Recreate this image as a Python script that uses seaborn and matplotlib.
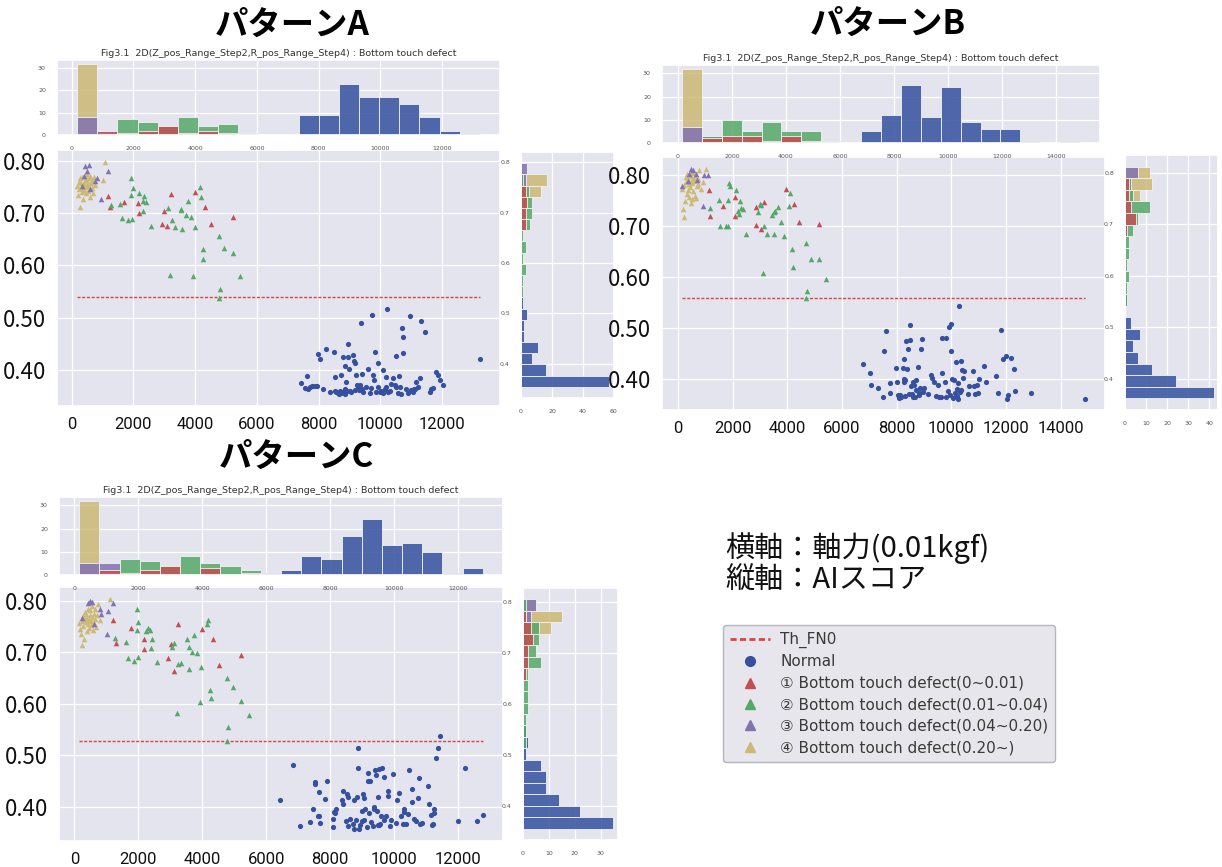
import numpy as np
import matplotlib
matplotlib.use("Agg")
import matplotlib.pyplot as plt
from matplotlib.lines import Line2D
from matplotlib.ticker import FormatStrFormatter, MultipleLocator
import seaborn as sns

# ---------------- data: pattern A ----------------
a_normal_x = [7438, 7622, 7654, 7730, 7784, 7946, 7978, 8032, 8141, 8249, 8497, 8519, 8525, 8573, 8627, 8659,
              8735, 8789, 8795, 8843, 8850, 8897, 8903, 8951, 8958, 8984, 9005, 9135, 9168, 9222, 9243, 9276,
              9308, 9330, 9384, 9390, 9416, 9546, 9600, 9654, 9741, 9762, 9784, 9870, 9924, 9930, 9978, 10086,
              10141, 10195, 10216, 10249, 10357, 10465, 10519, 10573, 10605, 10627, 10681, 10714, 10735, 10742,
              10843, 10951, 11005, 11059, 11114, 11168, 11222, 11297, 11330, 11438, 11600, 11654, 11708, 11816,
              11870, 11924, 12032, 13222, 7560, 7890, 8380, 8680, 8720, 8860, 9060, 9110, 9190, 9450, 9700, 9820,
              10020, 10080, 10170, 10300, 10410, 10490, 10900, 11080]
a_normal_y = [0.3757, 0.389, 0.3647, 0.3679, 0.3698, 0.3698, 0.430, 0.421, 0.364, 0.4402, 0.4351, 0.3864, 0.3602,
              0.3583, 0.357, 0.355, 0.3916, 0.4255, 0.3583, 0.4082, 0.3538, 0.3775, 0.3602, 0.4498, 0.4242, 0.4018,
              0.3602, 0.4178, 0.414, 0.3903, 0.3724, 0.3666, 0.3615, 0.3711, 0.4895, 0.3647, 0.3935, 0.3679, 0.4031,
              0.357, 0.5055, 0.3903, 0.3807, 0.3583, 0.414, 0.3679, 0.3583, 0.3999, 0.3647, 0.3871, 0.517, 0.3583,
              0.3743, 0.3711, 0.3679, 0.357, 0.3884, 0.3679, 0.3551, 0.4812, 0.4639, 0.4319, 0.3647, 0.5042, 0.3615,
              0.3583, 0.3647, 0.3775, 0.3679, 0.3858, 0.494, 0.4735, 0.3583, 0.3647, 0.3666, 0.3967, 0.3903, 0.3807,
              0.3711, 0.421, 0.3662, 0.3702, 0.3589, 0.3605, 0.356, 0.364, 0.3575, 0.429, 0.3628, 0.3592, 0.3655,
              0.434, 0.361, 0.3566, 0.3688, 0.3598, 0.385, 0.4265, 0.3572, 0.3638]
a_red_x = [1168, 1254, 1708, 2162, 2170, 2919, 2973, 3092, 3200, 4000, 4324, 4497, 5222]
a_red_y = [0.7315, 0.7117, 0.7213, 0.720, 0.7008, 0.6796, 0.704, 0.6752, 0.736, 0.7405, 0.7117, 0.6796, 0.6931]
a_green_x = [1276, 1568, 1622, 1816, 1924, 1957, 1978, 1930, 2195, 2303, 2357, 2411, 2324, 2573, 3114, 3243, 3330,
             3189, 3524, 3578, 3546, 3686, 3762, 3849, 3978, 3924, 4162, 4173, 4249, 4240, 4768, 4789, 4757, 4930,
             5222, 5459]
a_green_y = [0.7155, 0.7168, 0.690, 0.6867, 0.7667, 0.6892, 0.7469, 0.734, 0.7379, 0.7232, 0.7315, 0.7219, 0.704,
             0.6752, 0.7104, 0.6867, 0.6732, 0.5811, 0.7085, 0.6688, 0.7059, 0.6957, 0.7232, 0.6931, 0.6739, 0.5791,
             0.7488, 0.7296, 0.6303, 0.6124, 0.656, 0.5548, 0.5375, 0.6335, 0.6227, 0.5804]
a_purple_x = [443, 551, 486, 411, 335, 595, 757, 811, 951, 1160]
a_purple_y = [0.7904, 0.7923, 0.7795, 0.7712, 0.752, 0.7456, 0.7603, 0.766, 0.7264, 0.7808]
a_gold_x = [175, 205, 228, 246, 262, 281, 297, 312, 330, 348, 356, 372, 389, 401, 418, 433, 447, 462, 478, 493,
            512, 527, 545, 563, 584, 602, 623, 648, 671, 695, 720, 752, 1010, 1081]
a_gold_y = [0.752, 0.735, 0.760, 0.745, 0.712, 0.766, 0.748, 0.757, 0.741, 0.769, 0.752, 0.727, 0.760, 0.744,
            0.771, 0.756, 0.738, 0.762, 0.749, 0.775, 0.758, 0.742, 0.766, 0.752, 0.731, 0.771, 0.757, 0.747,
            0.763, 0.739, 0.768, 0.754, 0.762, 0.798]
a_threshold = 0.540

# ---------------- data: pattern B ----------------
b_normal_x = [6785, 7031, 7055, 7313, 7485, 7546, 7595, 7742, 7767, 7988, 8012, 8037, 8086, 8110, 8160, 8233,
              8250, 8266, 8282, 8307, 8331, 8380, 8417, 8479, 8503, 8528, 8564, 8601, 8650, 8687, 8724, 8773,
              8810, 8847, 8896, 8933, 8994, 9264, 9301, 9362, 9423, 9509, 9607, 9644, 9669, 9755, 9791, 9914,
              9975, 10000, 10037, 10098, 10152, 10168, 10214, 10230, 10282, 10344, 10368, 10442, 10466, 10650,
              10773, 10810, 10871, 10957, 11018, 11202, 11264, 11632, 11693, 11816, 11877, 12000, 12037, 12184,
              12307, 12331, 12896, 14883, 8290, 8450, 8590, 8700, 8820, 8950, 9150, 9560, 9800, 9880, 9950,
              10060, 10130, 10200, 10260, 10310, 10400, 10600, 10920, 12080]
b_normal_y = [0.4292, 0.4129, 0.3888, 0.383, 0.366, 0.4558, 0.4936, 0.3921, 0.3732, 0.4226, 0.3934, 0.3693,
              0.3628, 0.3693, 0.3654, 0.4226, 0.4012, 0.3934, 0.4402, 0.3979, 0.475, 0.4194, 0.4584, 0.4766,
              0.5053, 0.3856, 0.3706, 0.3953, 0.3882, 0.3641, 0.3979, 0.4246, 0.3726, 0.3836, 0.4584, 0.478,
              0.3817, 0.409, 0.4025, 0.3953, 0.3673, 0.3882, 0.3641, 0.4129, 0.4812, 0.3934, 0.4806, 0.502,
              0.5072, 0.4558, 0.3999, 0.3979, 0.4344, 0.3673, 0.3804, 0.3621, 0.543, 0.4357, 0.3791, 0.4031,
              0.4161, 0.3856, 0.4161, 0.3869, 0.3706, 0.3738, 0.3999, 0.4259, 0.3934, 0.4064, 0.3738, 0.4955,
              0.4389, 0.4454, 0.3621, 0.4422, 0.4194, 0.3771, 0.3738, 0.3621, 0.3665, 0.3712, 0.3648, 0.378,
              0.369, 0.3745, 0.3702, 0.366, 0.3655, 0.376, 0.369, 0.364, 0.3725, 0.3668, 0.3932, 0.3755, 0.418,
              0.370, 0.389, 0.368]
b_red_x = [1117, 1178, 1656, 2086, 2098, 2859, 2868, 3043, 3129, 3939, 4245, 4429, 5141]
b_red_y = [0.7694, 0.7187, 0.7395, 0.7558, 0.720, 0.7369, 0.7024, 0.6939, 0.746, 0.7727, 0.7434, 0.7083, 0.7031]
b_green_x = [1166, 1485, 1546, 1755, 1840, 1846, 1853, 1902, 2123, 2196, 2245, 2252, 2307, 2368, 2491, 2920,
             2982, 3043, 3141, 3104, 3264, 3509, 3436, 3497, 3558, 3656, 3755, 3877, 4061, 4110, 4184, 4190,
             4699, 4706, 4675, 4883, 5141, 5399]
b_green_y = [0.7349, 0.7499, 0.7005, 0.7005, 0.7005, 0.7512, 0.7837, 0.7785, 0.7707, 0.7297, 0.7232, 0.7493,
             0.7349, 0.733, 0.6829, 0.7265, 0.7434, 0.7414, 0.7005, 0.6081, 0.6829, 0.6829, 0.7206, 0.7271,
             0.7284, 0.7362, 0.707, 0.6809, 0.7395, 0.7642, 0.6549, 0.6198, 0.6653, 0.5716, 0.5593, 0.6341,
             0.6354, 0.5964]
b_purple_x = [160, 368, 405, 479, 552, 650, 712, 920, 957, 1092]
b_purple_y = [0.7772, 0.7883, 0.802, 0.8117, 0.8085, 0.8007, 0.7889, 0.7382, 0.800, 0.800]
b_gold_x = [152, 183, 214, 236, 259, 277, 295, 318, 334, 352, 371, 388, 405, 423, 441, 458, 476, 495, 512, 531,
            548, 566, 584, 603, 621, 640, 662, 688, 715, 742, 786, 845, 905, 1015]
b_gold_y = [0.772, 0.733, 0.718, 0.779, 0.748, 0.795, 0.786, 0.762, 0.801, 0.770, 0.792, 0.782, 0.757, 0.806,
            0.775, 0.798, 0.745, 0.784, 0.790, 0.752, 0.803, 0.768, 0.794, 0.788, 0.759, 0.797, 0.754, 0.777,
            0.791, 0.781, 0.809, 0.771, 0.785, 0.812]
b_threshold = 0.5593

# ---------------- data: pattern C ----------------
c_normal_x = [6430, 6837, 7066, 7461, 7513, 7534, 7617, 7638, 7648, 7669, 7825, 7908, 8085, 8106, 8137, 8189,
              8390, 8366, 8502, 8533, 8554, 8574, 8626, 8710, 8741, 8762, 8814, 8845, 8866, 8887, 8897, 8939,
              9010, 9001, 9022, 9053, 9074, 9105, 9178, 9199, 9230, 9261, 9282, 9334, 9365, 9386, 9407, 9438,
              9469, 9490, 9511, 9542, 9563, 9594, 9625, 9677, 9698, 9750, 9802, 9810, 9906, 9958, 10062, 10094,
              10166, 10219, 10271, 10302, 10323, 10427, 10479, 10552, 10635, 10687, 10770, 10822, 10864, 11072,
              11082, 11155, 11176, 11207, 11238, 11246, 11363, 11446, 12008, 12227, 12591, 12778, 8169, 8400,
              7380, 9150, 9520, 9870, 10380, 10560, 10740, 11300]
c_normal_y = [0.4129, 0.4809, 0.3612, 0.3942, 0.4473, 0.444, 0.3806, 0.3806, 0.4291, 0.3683, 0.4149, 0.4492,
              0.3761, 0.3599, 0.389, 0.3955, 0.4311, 0.4129, 0.3709, 0.4246, 0.4181, 0.3612, 0.3748, 0.3663,
              0.3553, 0.4129, 0.3728, 0.4181, 0.5139, 0.4744, 0.3566, 0.3631, 0.3922, 0.372, 0.4246, 0.3735,
              0.4162, 0.3942, 0.4654, 0.4505, 0.3871, 0.4505, 0.370, 0.3612, 0.3955, 0.3987, 0.4712, 0.462,
              0.3922, 0.3631, 0.4181, 0.4731, 0.3663, 0.3806, 0.4744, 0.457, 0.3745, 0.3806, 0.4311, 0.4214,
              0.3741, 0.4634, 0.3683, 0.4129, 0.4259, 0.3806, 0.3663, 0.3955, 0.389, 0.3858, 0.4712, 0.4343,
              0.3761, 0.3709, 0.455, 0.3663, 0.3683, 0.4408, 0.4052, 0.3825, 0.3644, 0.3663, 0.3942, 0.3871,
              0.5133, 0.5379, 0.3709, 0.4744, 0.3709, 0.3838, 0.3871, 0.4052, 0.369, 0.3598, 0.364, 0.362,
              0.3655, 0.409, 0.416, 0.495]
c_red_x = [1197, 1301, 1759, 2185, 2193, 2934, 3018, 3122, 3226, 3996, 4339, 4516, 5224]
c_red_y = [0.7625, 0.7178, 0.7482, 0.7256, 0.7074, 0.6887, 0.7159, 0.6641, 0.756, 0.7463, 0.7256, 0.6757, 0.6951]
c_green_x = [1270, 1603, 1665, 1873, 1946, 1952, 1998, 2004, 2227, 2310, 2362, 2383, 2435, 2581, 3039, 3122,
             3195, 3247, 3351, 3528, 3580, 3590, 3684, 3746, 3850, 3923, 3975, 4152, 4183, 4256, 4266, 4766,
             4808, 4964, 5224, 5453, 4772]
c_green_y = [0.7275, 0.721, 0.6887, 0.6835, 0.7838, 0.743, 0.7599, 0.6919, 0.7417, 0.7482, 0.743, 0.7081,
             0.7256, 0.6822, 0.7107, 0.7178, 0.5819, 0.6783, 0.6803, 0.7256, 0.7107, 0.6673, 0.7016, 0.734,
             0.699, 0.6026, 0.6725, 0.7547, 0.7625, 0.6278, 0.6104, 0.6511, 0.5553, 0.633, 0.6045, 0.5773, 0.5282]
c_purple_x = [250, 416, 489, 562, 624, 801, 832, 1041, 1009, 1217]
c_purple_y = [0.7676, 0.7968, 0.800, 0.7987, 0.756, 0.7838, 0.7741, 0.7806, 0.7366, 0.7961]
c_gold_x = [150, 188, 215, 232, 251, 268, 284, 301, 317, 335, 352, 369, 383, 398, 415, 431, 446, 462, 478, 495,
            511, 528, 546, 563, 581, 598, 617, 636, 658, 683, 712, 748, 790, 1113]
c_gold_y = [0.757, 0.745, 0.736, 0.715, 0.762, 0.771, 0.751, 0.727, 0.766, 0.779, 0.759, 0.774, 0.741, 0.768,
            0.785, 0.756, 0.764, 0.748, 0.773, 0.782, 0.761, 0.753, 0.769, 0.790, 0.744, 0.775, 0.758, 0.784,
            0.766, 0.749, 0.772, 0.795, 0.763, 0.805]
c_threshold = 0.5282

# ---------------- labels ----------------
panel_titles = ["パターンA", "パターンB", "パターンC"]
fig_title = "Fig3.1  2D(Z_pos_Range_Step2,R_pos_Range_Step4) : Bottom touch defect"
class_labels = ["Normal",
                "① Bottom touch defect(0~0.01)",
                "② Bottom touch defect(0.01~0.04)",
                "③ Bottom touch defect(0.04~0.20)",
                "④ Bottom touch defect(0.20~)"]
threshold_label = "Th_FN0"
axis_notes = ["横軸：軸力(0.01kgf)", "縦軸：AIスコア"]
score_ticks = [0.40, 0.50, 0.60, 0.70, 0.80]

# ---------------- style ----------------
sns.set_theme(style="darkgrid", rc={"axes.facecolor": "#E4E4EE", "grid.color": "white",
                                    "grid.linewidth": 0.9, "axes.edgecolor": "white"})
plt.rcParams["font.family"] = ["DejaVu Sans", "Noto Sans CJK JP"]
JP = ["Noto Sans CJK JP", "DejaVu Sans"]
TICK_X = ["Roboto", "DejaVu Sans"]

COLORS = ["#34509E", "#C44E52", "#55A868", "#8172B2", "#CCB974"]
MARKERS = ["o", "^", "^", "^", "^"]
TH_COLOR = "#D9453F"

W, H = 1222, 867
fig = plt.figure(figsize=(W / 100, H / 100), dpi=100)
fig.patch.set_facecolor("white")


def rect(l, t, r, b):
    return [l / W, 1 - b / H, (r - l) / W, (b - t) / H]


def draw_panel(xs, ys, threshold, r_hist, r_scatter, r_side, side_ticks):
    all_x = np.concatenate([np.asarray(v, float) for v in xs])
    all_y = np.concatenate([np.asarray(v, float) for v in ys])
    x_edges = np.linspace(all_x.min(), all_x.max(), 21)
    y_edges = np.linspace(all_y.min(), all_y.max(), 21)

    ax_s = fig.add_axes(rect(*r_scatter))
    ax_t = fig.add_axes(rect(*r_hist))
    ax_r = fig.add_axes(rect(*r_side))

    # scatter: normal first, then the four defect levels
    for i in [0, 1, 2, 4, 3]:
        sns.scatterplot(x=xs[i], y=ys[i], color=COLORS[i], marker=MARKERS[i],
                        s=14 if i == 0 else 16, linewidth=0, ax=ax_s, zorder=3)
    ax_s.hlines(threshold, all_x.min(), all_x.max(), colors=TH_COLOR,
                linestyles=(0, (2.2, 1.2)), linewidth=1.0, zorder=2)
    ax_s.set_yticks(score_ticks)
    ax_s.yaxis.set_major_formatter(FormatStrFormatter("%.2f"))
    ax_s.xaxis.set_major_locator(MultipleLocator(2000))
    ax_s.tick_params(axis="y", labelsize=16, pad=2, colors="#111111")
    ax_s.tick_params(axis="x", labelsize=12, pad=2, colors="#111111")
    for lab in ax_s.get_yticklabels():
        lab.set_family(JP)
    for lab in ax_s.get_xticklabels():
        lab.set_family(TICK_X)
    ax_s.set_xlabel("")
    ax_s.set_ylabel("")

    # marginal histograms, drawn per class on shared bins
    for i in [0, 4, 3, 2, 1]:
        sns.histplot(x=xs[i], bins=x_edges, color=COLORS[i], alpha=0.85,
                     edgecolor="#F2F2F6", linewidth=0.6, ax=ax_t)
        sns.histplot(y=ys[i], bins=y_edges, color=COLORS[i], alpha=0.85,
                     edgecolor="#F2F2F6", linewidth=0.6, ax=ax_r)
    ax_t.set_xlim(ax_s.get_xlim())
    ax_t.xaxis.set_major_locator(MultipleLocator(2000))
    ax_t.set_yticks([0, 10, 20, 30])
    ax_t.set_title(fig_title, fontsize=6.8, color="#333333", pad=3)
    ax_r.set_xticks(side_ticks)
    ax_r.set_yticks([0.4, 0.5, 0.6, 0.7, 0.8])
    ax_r.yaxis.set_major_formatter(FormatStrFormatter("%.1f"))
    for a in (ax_t, ax_r):
        a.tick_params(labelsize=4.5, colors="#555555", pad=2)
        a.set_xlabel("")
        a.set_ylabel("")
    return ax_s


draw_panel([a_normal_x, a_red_x, a_green_x, a_purple_x, a_gold_x],
           [a_normal_y, a_red_y, a_green_y, a_purple_y, a_gold_y], a_threshold,
           (57, 60, 500, 135), (57, 150, 500, 406), (521, 152, 614, 398), [0, 20, 40, 60])
draw_panel([b_normal_x, b_red_x, b_green_x, b_purple_x, b_gold_x],
           [b_normal_y, b_red_y, b_green_y, b_purple_y, b_gold_y], b_threshold,
           (662, 65, 1100, 143), (662, 157, 1105, 410), (1125, 155, 1218, 410), [0, 10, 20, 30, 40])
draw_panel([c_normal_x, c_red_x, c_green_x, c_purple_x, c_gold_x],
           [c_normal_y, c_red_y, c_green_y, c_purple_y, c_gold_y], c_threshold,
           (59, 497, 503, 575), (59, 587, 503, 841), (523, 588, 618, 840), [0, 10, 20, 30])

# panel headings
for label, (cx, cy) in zip(panel_titles, [(292, 25), (888, 24), (296, 457)]):
    fig.text(cx / W, 1 - cy / H, label, ha="center", va="center", fontsize=24,
             fontweight="bold", family=JP, color="black")

# axis notes
for note, cy in zip(axis_notes, [548, 580]):
    fig.text(725 / W, 1 - cy / H, note, ha="left", va="center", fontsize=21, family=JP, color="#111111")

# legend
handles = [Line2D([], [], color=TH_COLOR, linestyle=(0, (2.2, 1.2)), linewidth=2)]
for i in range(5):
    handles.append(Line2D([], [], color=COLORS[i], marker=MARKERS[i], linestyle="none", markersize=7))
leg = fig.legend(handles, [threshold_label] + class_labels, loc="upper left",
                 bbox_to_anchor=(723 / W, 1 - 625 / H), borderaxespad=0, frameon=True,
                 fontsize=11, facecolor="#E6E6EC", edgecolor="#B5B5BD", framealpha=1,
                 labelspacing=0.42, handlelength=2.6, handletextpad=0.7, borderpad=0.45,
                 labelcolor="#3A3A3A")
for t in leg.get_texts():
    t.set_family(["DejaVu Sans", "Noto Sans CJK JP"])

fig.savefig("out.png", dpi=100, facecolor="white")
